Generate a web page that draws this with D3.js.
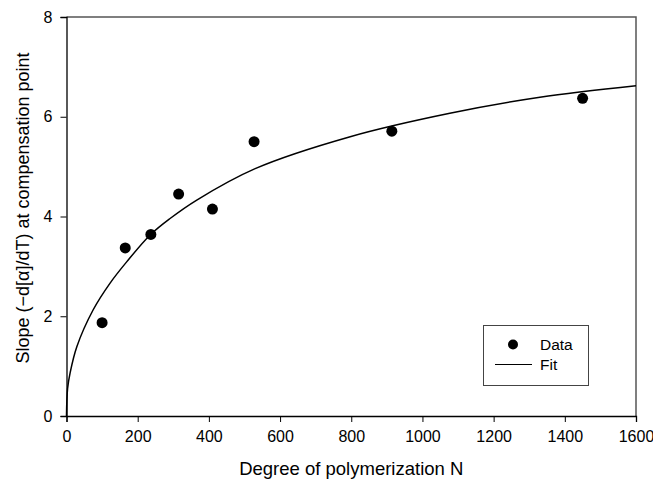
<!DOCTYPE html>
<html>
<head>
<meta charset="utf-8">
<script src="https://cdn.jsdelivr.net/npm/d3@7"></script>
<style>
  body { margin: 0; background: #fff; }
  text { font-family: "Liberation Sans", Arial, sans-serif; }
</style>
</head>
<body>
<div id="chart"></div>
<script>
// measured points
const degreeN = [100, 165, 237, 315, 410, 527, 914, 1450]
const slope = [1.87, 3.37, 3.64, 4.45, 4.15, 5.5, 5.71, 6.37]

// fit curve
const fitN = [0, 3, 10, 29, 75, 122, 169, 235, 291, 366, 530, 797, 1077, 1330, 1600]
const fitY = [0, 0.55, 0.86, 1.39, 2.13, 2.66, 3.09, 3.63, 3.96, 4.33, 4.96, 5.6, 6.07, 6.39, 6.62]

const xTicks = [0, 200, 400, 600, 800, 1000, 1200, 1400, 1600]
const yTicks = [0, 2, 4, 6, 8]

const width = 653
const height = 483
const margin = { left: 66.5, right: 17, top: 17, bottom: 67 }

const svg = d3.select("#chart")
  .append("svg")
  .attr("width", width)
  .attr("height", height)

const x = d3.scaleLinear().domain([0, 1600]).range([margin.left, width - margin.right])
const y = d3.scaleLinear().domain([0, 8]).range([height - margin.bottom, margin.top])

// frame top/right
svg.append("path")
  .attr("d", `M${x(0)},${y(8)}H${x(1600)}V${y(0)}`)
  .attr("fill", "none")
  .attr("stroke", "#555")
  .attr("stroke-width", 1.5)

const xAxis = svg.append("g")
  .attr("transform", `translate(0,${y(0)})`)
  .call(d3.axisBottom(x).tickValues(xTicks).tickSize(6).tickPadding(9).tickFormat(d3.format("d")))
xAxis.select(".domain").attr("stroke-width", 1.3)

const yAxis = svg.append("g")
  .attr("transform", `translate(${x(0)},0)`)
  .call(d3.axisLeft(y).tickValues(yTicks).tickSize(6).tickPadding(8))
yAxis.select(".domain").attr("stroke-width", 1.3)

svg.selectAll(".tick text")
  .attr("font-size", 16)
  .attr("font-family", "Liberation Sans, Arial, sans-serif")
  .attr("fill", "#000")

// axis titles
svg.append("text")
  .attr("x", (x(0) + x(1600)) / 2)
  .attr("y", 475)
  .attr("text-anchor", "middle")
  .attr("font-size", 18.5)
  .text("Degree of polymerization N")

svg.append("text")
  .attr("transform", "translate(29,208) rotate(-90)")
  .attr("text-anchor", "middle")
  .attr("font-size", 18)
  .text("Slope (\u2212d[\u03b1]/dT) at compensation point")

// fit line
const fitData = fitN.map((n, i) => ({ n: n, v: fitY[i] }))
const line = d3.line()
  .x(d => x(d.n))
  .y(d => y(d.v))
  .curve(d3.curveCatmullRom.alpha(0.5))

svg.append("path")
  .datum(fitData)
  .attr("d", line)
  .attr("fill", "none")
  .attr("stroke", "#000")
  .attr("stroke-width", 1.5)

// data points
svg.selectAll("circle.pt")
  .data(degreeN.map((n, i) => ({ n: n, v: slope[i] })))
  .join("circle")
  .attr("class", "pt")
  .attr("cx", d => x(d.n))
  .attr("cy", d => y(d.v))
  .attr("r", 5.5)
  .attr("fill", "#000")

// legend
const lg = svg.append("g")
lg.append("rect")
  .attr("x", 483.5).attr("y", 325.5)
  .attr("width", 105).attr("height", 60)
  .attr("fill", "#fff")
  .attr("stroke", "#444")
  .attr("stroke-width", 1)
lg.append("circle")
  .attr("cx", 513).attr("cy", 344.5).attr("r", 5)
  .attr("fill", "#000")
lg.append("text")
  .attr("x", 540).attr("y", 350)
  .attr("font-size", 15.5)
  .text("Data")
lg.append("line")
  .attr("x1", 495).attr("x2", 532)
  .attr("y1", 364.5).attr("y2", 364.5)
  .attr("stroke", "#000")
  .attr("stroke-width", 1.2)
lg.append("text")
  .attr("x", 540).attr("y", 370)
  .attr("font-size", 15.5)
  .text("Fit")
</script>
</body>
</html>
